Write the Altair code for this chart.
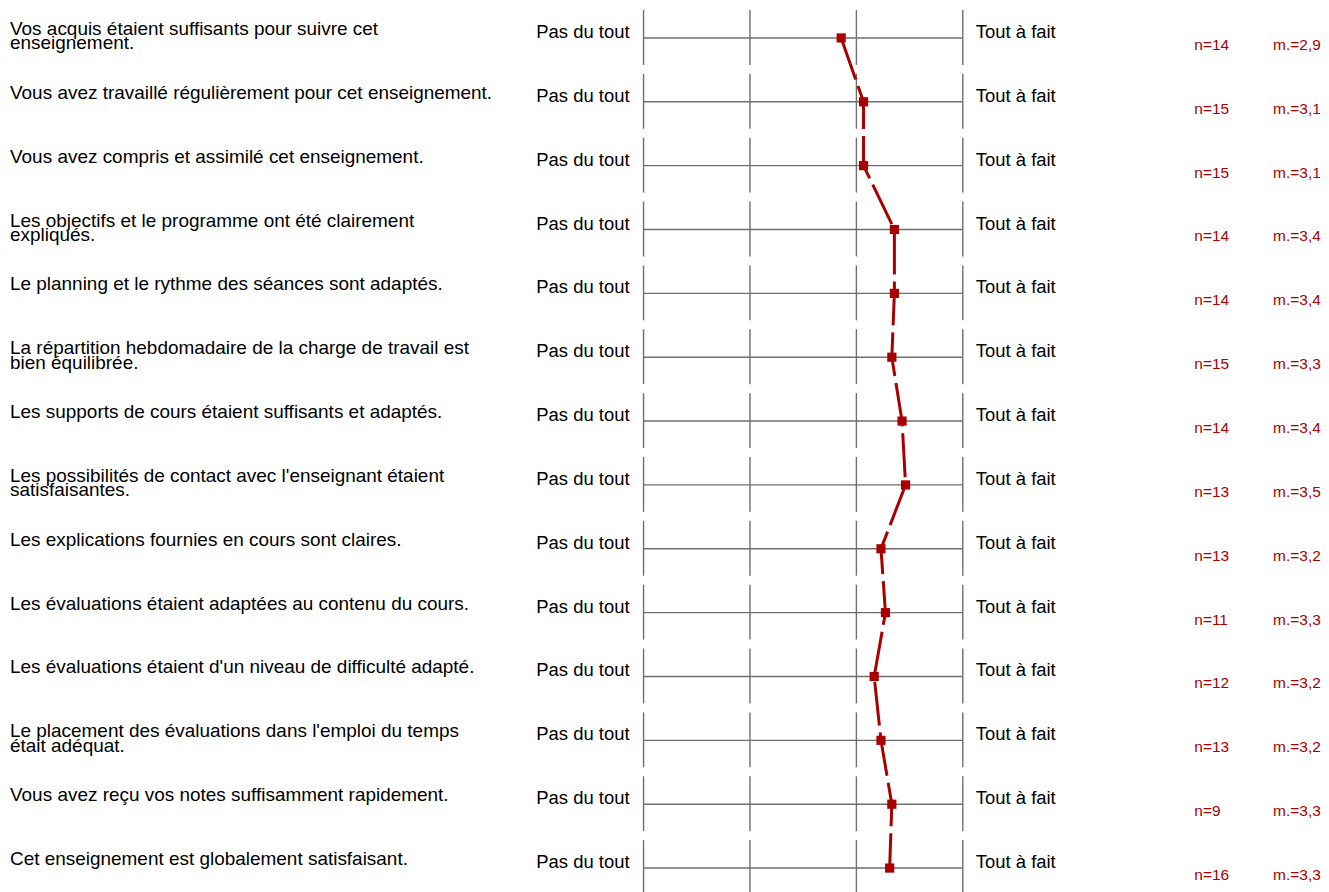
import altair as alt
import pandas as pd

questions = [
    "Vos acquis étaient suffisants pour suivre cet\nenseignement.",
    "Vous avez travaillé régulièrement pour cet enseignement.",
    "Vous avez compris et assimilé cet enseignement.",
    "Les objectifs et le programme ont été clairement\nexpliqués.",
    "Le planning et le rythme des séances sont adaptés.",
    "La répartition hebdomadaire de la charge de travail est\nbien équilibrée.",
    "Les supports de cours étaient suffisants et adaptés.",
    "Les possibilités de contact avec l'enseignant étaient\nsatisfaisantes.",
    "Les explications fournies en cours sont claires.",
    "Les évaluations étaient adaptées au contenu du cours.",
    "Les évaluations étaient d'un niveau de difficulté adapté.",
    "Le placement des évaluations dans l'emploi du temps\nétait adéquat.",
    "Vous avez reçu vos notes suffisamment rapidement.",
    "Cet enseignement est globalement satisfaisant.",
]
means = [2.857, 3.067, 3.067, 3.357, 3.357, 3.333, 3.429, 3.462,
         3.231, 3.273, 3.167, 3.231, 3.333, 3.3125]
counts = [14, 15, 15, 14, 14, 15, 14, 13, 13, 11, 12, 13, 9, 16]
mean_labels = ["2,9", "3,1", "3,1", "3,4", "3,4", "3,3", "3,4", "3,5",
               "3,2", "3,3", "3,2", "3,2", "3,3", "3,3"]
ticks = [1, 2, 3, 4]
left_label = "Pas du tout"
right_label = "Tout à fait"

rows = list(range(len(questions)))
df = pd.DataFrame({
    "row": rows,
    "question": questions,
    "mean": means,
    "lo": [ticks[0]] * len(rows),
    "hi": [ticks[-1]] * len(rows),
    "nlab": [f"n={c}" for c in counts],
    "mlab": [f"m.={m}" for m in mean_labels],
    "left": [left_label] * len(rows),
    "right": [right_label] * len(rows),
})
tick_df = pd.DataFrame([{"row": r, "t": t} for r in rows for t in ticks])

FONT = "Liberation Sans"
RED = "#a80000"
GREY = "#6e6e6e"

xs = alt.Scale(domain=[1, 4], range=[637, 957])
ys = alt.Scale(domain=[0, 13], range=[29, 861])

base = alt.Chart(df)

hline = base.mark_rule(color=GREY, strokeWidth=1.4).encode(
    x=alt.X("lo:Q", scale=xs, axis=None),
    x2="hi:Q",
    y=alt.Y("row:Q", scale=ys, axis=None),
)

vticks = alt.Chart(tick_df).mark_rule(
    color=GREY, strokeWidth=1.4, yOffset=-28, y2Offset=27
).encode(
    x=alt.X("t:Q", scale=xs, axis=None),
    y=alt.Y("row:Q", scale=ys, axis=None),
    y2="row:Q",
)

line = base.mark_line(color=RED, strokeWidth=3, strokeDash=[44, 7]).encode(
    x=alt.X("mean:Q", scale=xs, axis=None),
    y=alt.Y("row:Q", scale=ys, axis=None),
    order="row:Q",
)

pts = base.mark_square(color=RED, opacity=1, size=85).encode(
    x=alt.X("mean:Q", scale=xs, axis=None),
    y=alt.Y("row:Q", scale=ys, axis=None),
)

qtext = base.mark_text(
    align="left", baseline="alphabetic", font=FONT, fontSize=19,
    lineBreak="\n", lineHeight=14.5, color="#000000", dy=-3
).encode(
    x=alt.value(2),
    y=alt.Y("row:Q", scale=ys, axis=None),
    text="question:N",
)

ltext = base.mark_text(
    align="right", baseline="alphabetic", font=FONT, fontSize=18.5, color="#000000"
).encode(
    x=alt.value(623),
    y=alt.Y("row:Q", scale=ys, axis=None),
    text="left:N",
)

rtext = base.mark_text(
    align="left", baseline="alphabetic", font=FONT, fontSize=18.5, color="#000000"
).encode(
    x=alt.value(970),
    y=alt.Y("row:Q", scale=ys, axis=None),
    text="right:N",
)

ntext = base.mark_text(
    align="left", baseline="alphabetic", font=FONT, fontSize=15.5, color=RED, dy=12
).encode(
    x=alt.value(1189),
    y=alt.Y("row:Q", scale=ys, axis=None),
    text="nlab:N",
)

mtext = base.mark_text(
    align="left", baseline="alphabetic", font=FONT, fontSize=15.5, color=RED, dy=12
).encode(
    x=alt.value(1268),
    y=alt.Y("row:Q", scale=ys, axis=None),
    text="mlab:N",
)

chart = alt.layer(
    hline, vticks, line, pts, qtext, ltext, rtext, ntext, mtext
).properties(
    width=1313, height=876, padding=0, background="white"
).configure_view(strokeWidth=0, stroke=None)

chart.save("out.html", embed_options={"renderer": "svg", "actions": False})
